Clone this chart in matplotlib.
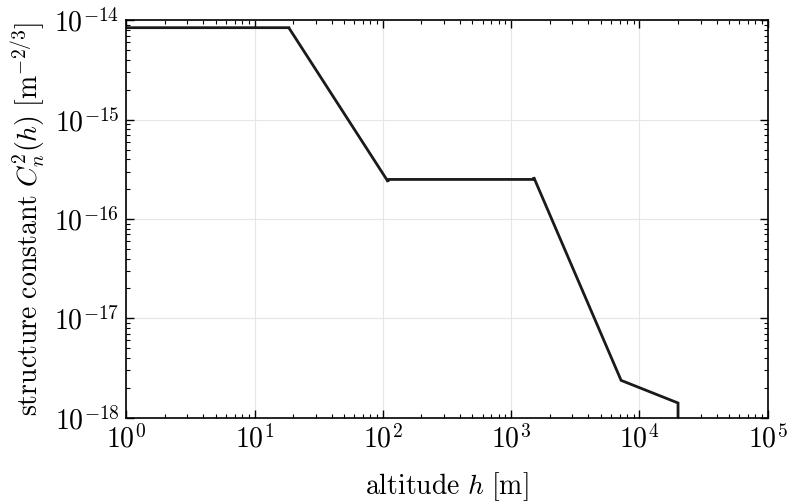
import matplotlib
matplotlib.use("Agg")
import matplotlib.pyplot as plt
from matplotlib.ticker import LogLocator, NullFormatter

plt.rcParams['mathtext.fontset'] = 'cm'
plt.rcParams['font.family'] = 'serif'
plt.rcParams['font.serif'] = ['cmr10', 'DejaVu Serif']
plt.rcParams['axes.formatter.use_mathtext'] = True

# SLC-night profile breakpoints (altitude [m], Cn^2 [m^-2/3])
altitude = [1, 18.5, 18.5, 110, 110, 1500, 1500, 7200, 20000, 20000]
cn2 = [8.4e-15, 8.4e-15, 8.39e-15, 2.37e-16, 2.5e-16, 2.5e-16, 2.63e-16,
       2.38e-18, 1.41e-18, 1e-19]

fig = plt.figure(figsize=(7.89, 5.04), dpi=100)
ax = fig.add_axes([0.160, 0.171, 0.813, 0.789])

ax.plot(altitude, cn2, color='#1a1a1a', lw=2.0, solid_joinstyle='miter')
ax.set_xscale('log')
ax.set_yscale('log')
ax.set_xlim(1, 1e5)
ax.set_ylim(1e-18, 1e-14)

ax.grid(True, which='major', color='#e6e6e6', lw=0.8)
ax.set_axisbelow(True)
ax.xaxis.set_minor_locator(LogLocator(base=10, subs=range(2, 10), numticks=20))
ax.yaxis.set_minor_locator(LogLocator(base=10, subs=range(2, 10), numticks=20))
ax.xaxis.set_minor_formatter(NullFormatter())
ax.yaxis.set_minor_formatter(NullFormatter())
ax.tick_params(which='both', direction='in', top=True, right=True, labelsize=20)
ax.tick_params(which='major', length=6, width=1.0, pad=5)
ax.tick_params(which='minor', length=3, width=0.8)
for s in ax.spines.values():
    s.set_linewidth(1.2)

ax.set_xlabel(r'$\mathrm{altitude}\ h\ [\mathrm{m}]$', fontsize=20, labelpad=12)
ax.set_ylabel(r'$\mathrm{structure\ constant}\ C_n^2(h)\ [\mathrm{m}^{-2/3}]$', fontsize=20, labelpad=4)

fig.savefig('out.png', dpi=100)
